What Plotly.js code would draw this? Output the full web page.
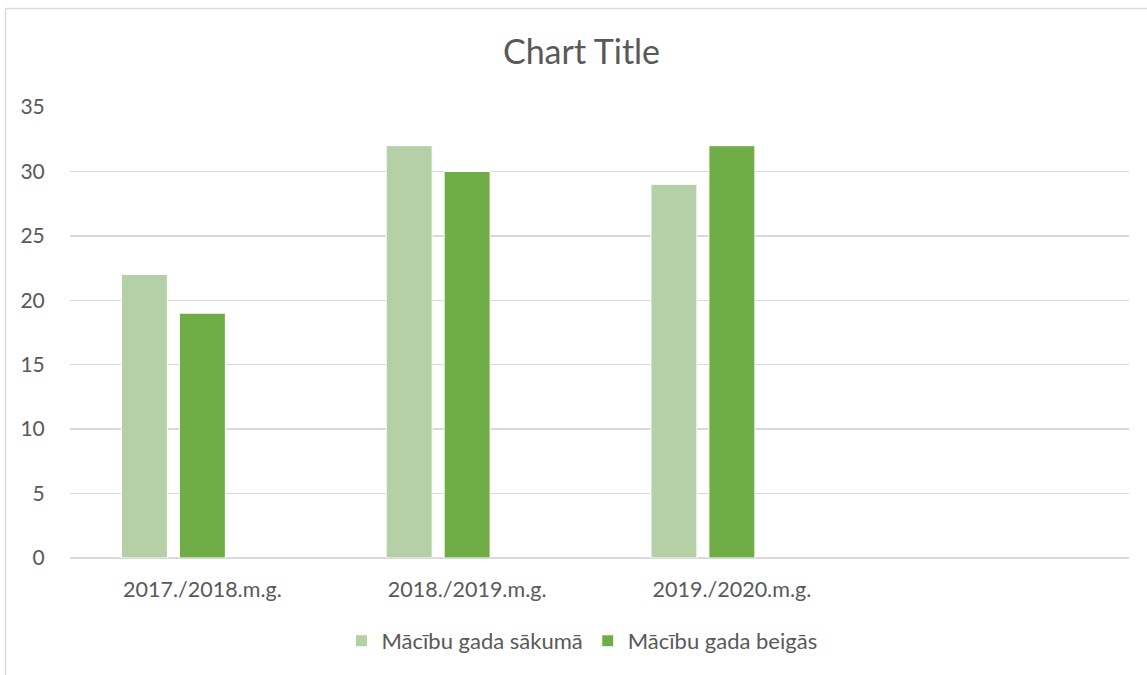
<!DOCTYPE html>
<html>
<head>
<meta charset="utf-8">
<script src="https://cdn.plot.ly/plotly-3.0.1.min.js"></script>
<style>
html,body{margin:0;padding:0;background:#fff;}
#chart{width:1147px;height:675px;}
</style>
</head>
<body>
<div id="chart"></div>
<script>
const categories = ["2017./2018.m.g.", "2018./2019.m.g.", "2019./2020.m.g."];
const seriesNames = ["Mācību gada sākumā", "Mācību gada beigās"];
const startValues = [22, 32, 29];
const endValues = [19, 30, 32];
const yTicks = [0, 5, 10, 15, 20, 25, 30, 35];

const font = "Lato, 'Open Sans', sans-serif";
const textColor = "#595959";

const traces = [
  {
    type: "bar", name: seriesNames[0], x: categories, y: startValues,
    width: 0.1736, offset: -0.3057,
    marker: {color: "#b5cfa6", line: {color: "#ffffff", width: 1}},
    hoverinfo: "y"
  },
  {
    type: "bar", name: seriesNames[1], x: categories, y: endValues,
    width: 0.1736, offset: -0.0868,
    marker: {color: "#70ad47", line: {color: "#ffffff", width: 1}},
    hoverinfo: "y"
  }
];

const layout = {
  width: 1147, height: 675, autosize: false,
  margin: {l: 70, r: 18, t: 107, b: 117, autoexpand: false},
  paper_bgcolor: "#ffffff", plot_bgcolor: "#ffffff",
  font: {family: font, color: textColor, size: 21},
  title: {text: "Chart Title", font: {family: font, size: 34, color: textColor}, x: 581.5/1147, xref: "container", xanchor: "center", y: 1-52/675, yanchor: "middle"},
  barmode: "group",
  showlegend: true,
  legend: {orientation: "h", x: 0.4835, xanchor: "center", y: -0.184, yanchor: "middle",
           font: {family: font, size: 22, color: textColor}, traceorder: "normal"},
  xaxis: {
    type: "category", categoryorder: "array", categoryarray: categories,
    range: [-0.5, 3.5], showgrid: false, zeroline: false, showline: false,
    ticks: "outside", ticklen: 12, tickcolor: "rgba(0,0,0,0)", tickangle: 0,
    tickfont: {family: font, size: 21.5, color: textColor}, fixedrange: true
  },
  yaxis: {
    range: [0, 35], tickvals: yTicks, ticktext: yTicks.map(String), showgrid: true,
    gridcolor: "#d9d9d9", gridwidth: 1.3, zeroline: true, zerolinecolor: "#d9d9d9", zerolinewidth: 1.3,
    showline: false, ticks: "outside", ticklen: 20, tickcolor: "rgba(0,0,0,0)",
    tickfont: {family: font, size: 21, color: textColor}, fixedrange: true
  },
  shapes: [
    {type: "line", xref: "paper", yref: "paper", x0: (5.5-70)/1059, x1: (5.5-70)/1059, y0: 1+(107-8.5)/451, y1: -117/451 - 0.01, line: {color: "#d9d9d9", width: 1.5}},
    {type: "line", xref: "paper", yref: "paper", x0: (5.5-70)/1059, x1: 1+18/1059, y0: 1+(107-8.5)/451, y1: 1+(107-8.5)/451, line: {color: "#d9d9d9", width: 1.5}}
  ]
};

Plotly.newPlot("chart", traces, layout, {displayModeBar: false, staticPlot: true});
</script>
</body>
</html>
